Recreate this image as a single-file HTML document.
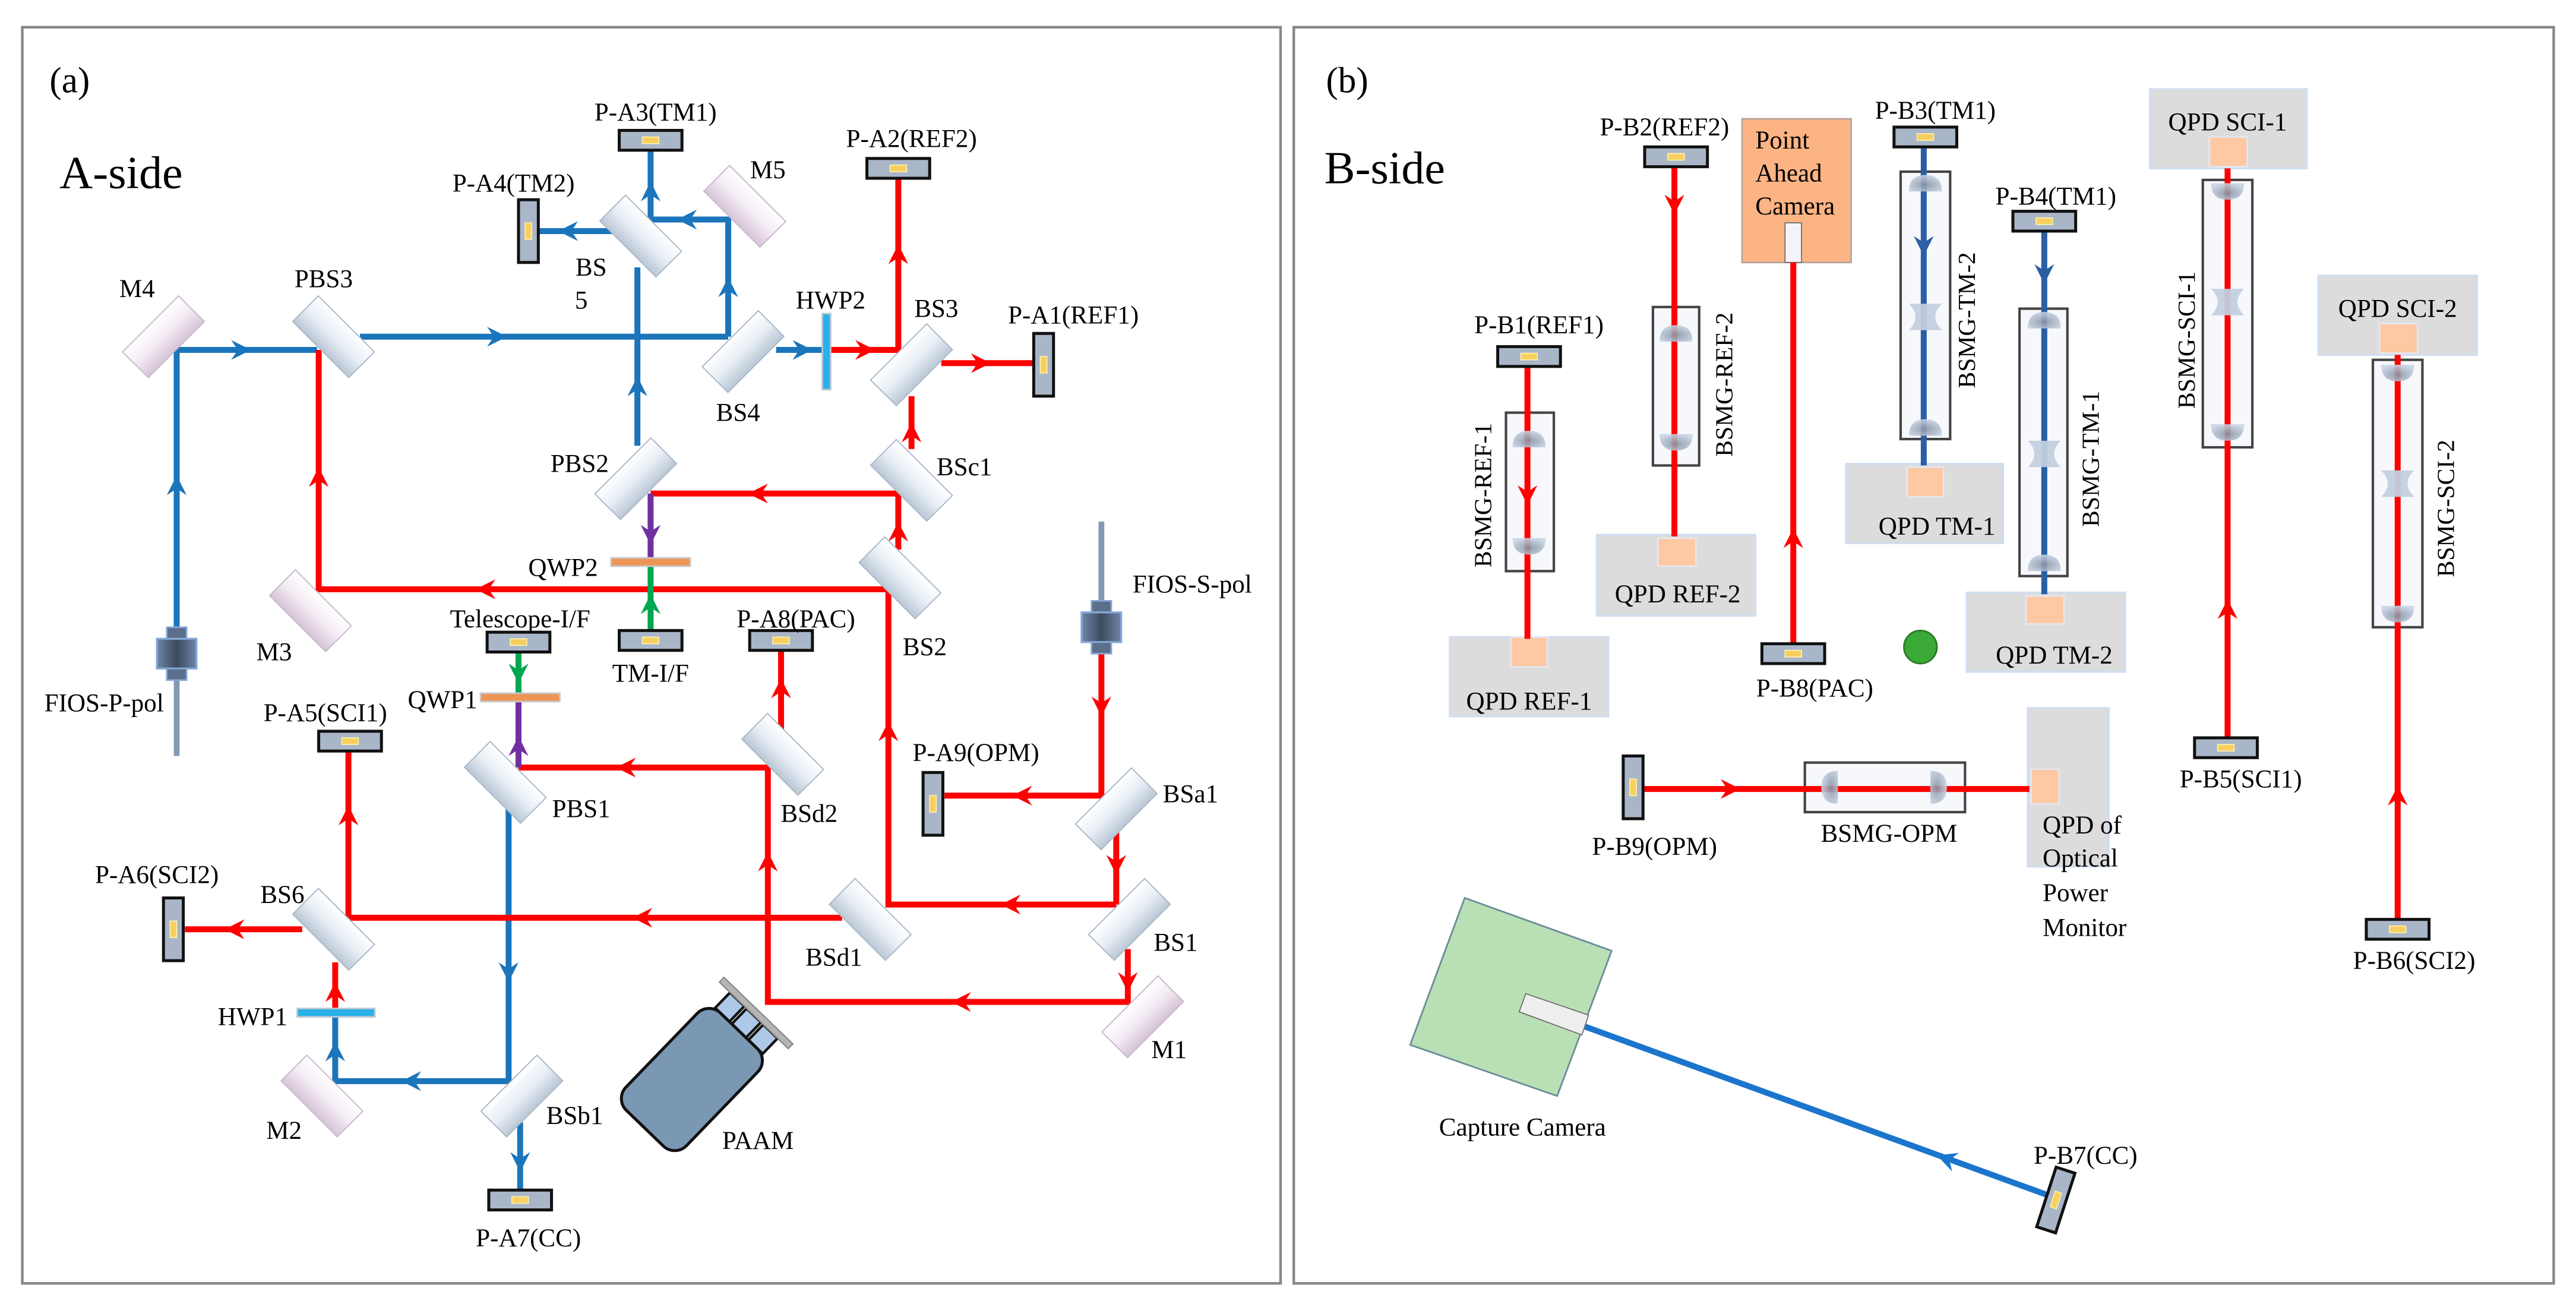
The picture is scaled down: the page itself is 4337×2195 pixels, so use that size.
<!DOCTYPE html>
<html><head><meta charset="utf-8"><style>html,body{margin:0;padding:0;background:#fff}svg{display:block}svg text{font-family:"Liberation Serif","Times New Roman","DejaVu Serif",serif;fill:#000}</style></head><body>
<svg xmlns="http://www.w3.org/2000/svg" width="4337" height="2195" viewBox="0 0 1560 790" preserveAspectRatio="none" font-family="Liberation Serif, Times New Roman, DejaVu Serif, serif">
<defs>
<linearGradient id="bsg" x1="0" y1="0" x2="0" y2="1"><stop offset="0" stop-color="#ffffff"/><stop offset="0.5" stop-color="#e8eef5"/><stop offset="1" stop-color="#b9c7d6"/></linearGradient>
<linearGradient id="mg" x1="0" y1="0" x2="0" y2="1"><stop offset="0" stop-color="#ffffff"/><stop offset="0.5" stop-color="#f3ebf3"/><stop offset="1" stop-color="#d6c3d8"/></linearGradient>
<radialGradient id="lg" cx="0.5" cy="0.6" r="0.6"><stop offset="0" stop-color="#8893a3"/><stop offset="1" stop-color="#c9d5e6"/></radialGradient>
<linearGradient id="fc" x1="0" y1="0" x2="1" y2="0"><stop offset="0" stop-color="#6f86a6"/><stop offset="0.5" stop-color="#3b4a60"/><stop offset="1" stop-color="#6f86a6"/></linearGradient>
<g id="bs"><rect x="-24" y="-11" width="48" height="22" fill="url(#bsg)" stroke="#aab8c8" stroke-width="0.7"/></g>
<g id="mi"><rect x="-24" y="-11" width="48" height="22" fill="url(#mg)" stroke="#c8b8cc" stroke-width="0.7"/></g>
<g id="det"><rect x="-19" y="-6" width="38" height="12" fill="#a9b6c8" stroke="#111" stroke-width="1.8"/><rect x="-5" y="-2" width="10" height="4" fill="#f7cf5e" stroke="#fff2b0" stroke-width="0.6"/></g>
<path id="ah" d="M0,0 L-12,-6 L-8,0 L-12,6 Z"/>
<g id="lu"><path d="M-10,5 Q-10,-5 0,-5 Q10,-5 10,5 Z" fill="url(#lg)" opacity="0.9"/></g>
<g id="ld"><path d="M-10,-5 Q-10,5 0,5 Q10,5 10,-5 Z" fill="url(#lg)" opacity="0.9"/></g>
<g id="lc"><path d="M-10,-8 L10,-8 Q2,0 10,8 L-10,8 Q-2,0 -10,-8 Z" fill="#c3cfdf" opacity="0.95"/></g>
<g id="fib"><rect x="-6" y="-16" width="12" height="7" fill="#5c6f8a" stroke="#86a8d8" stroke-width="1"/><rect x="-12" y="-9" width="24" height="18" fill="url(#fc)" stroke="#86a8d8" stroke-width="1.2"/><rect x="-6" y="9" width="12" height="7" fill="#5c6f8a" stroke="#86a8d8" stroke-width="1"/></g>
</defs>

<rect x="13.5" y="16.5" width="762" height="761" fill="none" stroke="#888" stroke-width="1.6"/>
<rect x="783.5" y="16.5" width="763" height="761" fill="none" stroke="#888" stroke-width="1.6"/>

<text x="30" y="56" font-size="22">(a)</text>
<text x="36" y="114" font-size="28">A-side</text>

<line x1="107" y1="370" x2="107" y2="458" stroke="#8499b3" stroke-width="3.5"/>
<line x1="667" y1="316" x2="667" y2="395" stroke="#8499b3" stroke-width="3.5"/>

<g fill="none" stroke-width="3.6" stroke-linejoin="miter">
<g stroke="#1b75bb">
<polyline points="107,380 107,212 192,212"/>
<line x1="218" y1="204" x2="441" y2="204"/>
<polyline points="441,204 441,133 394,133 394,90"/>
<line x1="386" y1="270" x2="386" y2="162"/>
<line x1="372" y1="140" x2="325" y2="140"/>
<line x1="470" y1="212" x2="499" y2="212"/>
<polyline points="308,490 308,655 203,655 203,615"/>
<line x1="315" y1="680" x2="315" y2="721"/>
</g>
<g stroke="#ff0000">
<polyline points="502,212 544,212 544,107"/>
<line x1="570" y1="220" x2="626" y2="220"/>
<line x1="552" y1="272" x2="552" y2="240"/>
<polyline points="544,333 544,299 394,299"/>
<polyline points="676,548 538,548 538,357 193,357 193,212"/>
<polyline points="314,465 465,465 465,607 683,607 683,575"/>
<polyline points="667,394 667,482 572,482"/>
<line x1="676" y1="500" x2="676" y2="548"/>
<line x1="473" y1="442" x2="473" y2="394"/>
<polyline points="510,556 211,556 211,455"/>
<line x1="183" y1="563" x2="112" y2="563"/>
<line x1="203" y1="611" x2="203" y2="583"/>
</g>
<g stroke="#7030a0"><line x1="394" y1="299" x2="394" y2="338"/><line x1="314" y1="465" x2="314" y2="424"/></g>
<g stroke="#00a651"><line x1="394" y1="382" x2="394" y2="342"/><line x1="314" y1="395" x2="314" y2="420"/></g>
</g>

<g fill="#1b75bb">
<use href="#ah" transform="translate(107,288) rotate(270)"/>
<use href="#ah" transform="translate(152,212) rotate(0)"/>
<use href="#ah" transform="translate(307,204) rotate(0)"/>
<use href="#ah" transform="translate(441,168) rotate(270)"/>
<use href="#ah" transform="translate(410,133) rotate(180)"/>
<use href="#ah" transform="translate(394,110) rotate(270)"/>
<use href="#ah" transform="translate(338,140) rotate(180)"/>
<use href="#ah" transform="translate(386,228) rotate(270)"/>
<use href="#ah" transform="translate(492,212) rotate(0)"/>
<use href="#ah" transform="translate(308,595) rotate(90)"/>
<use href="#ah" transform="translate(243,655) rotate(180)"/>
<use href="#ah" transform="translate(203,631) rotate(270)"/>
<use href="#ah" transform="translate(315,710) rotate(90)"/>
</g>
<g fill="#ff0000">
<use href="#ah" transform="translate(530,212) rotate(0)"/>
<use href="#ah" transform="translate(544,148) rotate(270)"/>
<use href="#ah" transform="translate(600,220) rotate(0)"/>
<use href="#ah" transform="translate(552,256) rotate(270)"/>
<use href="#ah" transform="translate(453,299) rotate(180)"/>
<use href="#ah" transform="translate(544,316) rotate(270)"/>
<use href="#ah" transform="translate(288,357) rotate(180)"/>
<use href="#ah" transform="translate(193,283) rotate(270)"/>
<use href="#ah" transform="translate(538,437) rotate(270)"/>
<use href="#ah" transform="translate(606,548) rotate(180)"/>
<use href="#ah" transform="translate(373,465) rotate(180)"/>
<use href="#ah" transform="translate(465,516) rotate(270)"/>
<use href="#ah" transform="translate(576,607) rotate(180)"/>
<use href="#ah" transform="translate(683,601) rotate(90)"/>
<use href="#ah" transform="translate(667,434) rotate(90)"/>
<use href="#ah" transform="translate(613,482) rotate(180)"/>
<use href="#ah" transform="translate(676,530) rotate(90)"/>
<use href="#ah" transform="translate(473,411) rotate(270)"/>
<use href="#ah" transform="translate(383,556) rotate(180)"/>
<use href="#ah" transform="translate(211,488) rotate(270)"/>
<use href="#ah" transform="translate(136,563) rotate(180)"/>
<use href="#ah" transform="translate(203,595) rotate(270)"/>
</g>
<g fill="#7030a0"><use href="#ah" transform="translate(394,330) rotate(90)"/><use href="#ah" transform="translate(314,446) rotate(270)"/></g>
<g fill="#00a651"><use href="#ah" transform="translate(394,360) rotate(270)"/><use href="#ah" transform="translate(314,414) rotate(90)"/></g>

<use href="#mi" transform="translate(99,204) rotate(-45)"/>
<use href="#bs" transform="translate(202,204) rotate(45)"/>
<use href="#bs" transform="translate(388,143) rotate(45)"/>
<use href="#mi" transform="translate(451,125) rotate(45)"/>
<use href="#bs" transform="translate(450,213) rotate(-45)"/>
<use href="#bs" transform="translate(552,221) rotate(-45)"/>
<use href="#bs" transform="translate(385,290) rotate(-45)"/>
<use href="#bs" transform="translate(552,291) rotate(45)"/>
<use href="#bs" transform="translate(545,350) rotate(45)"/>
<use href="#mi" transform="translate(188,370) rotate(45)"/>
<use href="#bs" transform="translate(306,474) rotate(45)"/>
<use href="#bs" transform="translate(474,457) rotate(45)"/>
<use href="#bs" transform="translate(676,490) rotate(-45)"/>
<use href="#bs" transform="translate(527,557) rotate(45)"/>
<use href="#bs" transform="translate(684,557) rotate(-45)"/>
<use href="#mi" transform="translate(692,616) rotate(-45)"/>
<use href="#bs" transform="translate(202,563) rotate(45)"/>
<use href="#mi" transform="translate(195,664) rotate(45)"/>
<use href="#bs" transform="translate(316,664) rotate(-45)"/>

<rect x="498" y="190" width="5" height="46" fill="#29b0e8" stroke="#b8c8d4" stroke-width="1"/>
<rect x="180" y="611" width="47" height="5" fill="#29b0e8" stroke="#b8c8d4" stroke-width="1"/>
<rect x="370" y="338" width="48" height="5" fill="#ee9455" stroke="#c8c8c8" stroke-width="1"/>
<rect x="291" y="420" width="48" height="5" fill="#ee9455" stroke="#c8c8c8" stroke-width="1"/>

<use href="#fib" transform="translate(107,396)"/>
<use href="#fib" transform="translate(667,380)"/>

<use href="#det" transform="translate(394,85)"/>
<use href="#det" transform="translate(544,102)"/>
<use href="#det" transform="translate(320,140) rotate(90)"/>
<use href="#det" transform="translate(632,221) rotate(90)"/>
<use href="#det" transform="translate(314,389)"/>
<use href="#det" transform="translate(394,388)"/>
<use href="#det" transform="translate(473,388)"/>
<use href="#det" transform="translate(565,487) rotate(90)"/>
<use href="#det" transform="translate(212,449)"/>
<use href="#det" transform="translate(105,563) rotate(90)"/>
<use href="#det" transform="translate(315,727)"/>

<g transform="translate(419,654) rotate(44)">
<rect x="-20" y="-54" width="12" height="13" fill="#aec8e8" stroke="#111" stroke-width="1.6"/>
<rect x="-6" y="-54" width="12" height="13" fill="#aec8e8" stroke="#111" stroke-width="1.6"/>
<rect x="8" y="-54" width="12" height="13" fill="#aec8e8" stroke="#111" stroke-width="1.6"/>
<rect x="-29" y="-58" width="58" height="4" fill="#b5b5b5" stroke="#888" stroke-width="0.8"/>
<rect x="-25.5" y="-41" width="51" height="82" rx="10" fill="#7a98b3" stroke="#111" stroke-width="1.8"/>
</g>

<g font-size="15.5" text-anchor="middle">
<text x="397" y="73">P-A3(TM1)</text>
<text x="552" y="89">P-A2(REF2)</text>
<text x="311" y="116">P-A4(TM2)</text>
<text x="650" y="196">P-A1(REF1)</text>
<text x="83" y="180">M4</text>
<text x="196" y="174">PBS3</text>
<text x="465" y="108">M5</text>
<text x="358" y="167">BS</text>
<text x="352" y="187">5</text>
<text x="503" y="187">HWP2</text>
<text x="567" y="192">BS3</text>
<text x="447" y="255">BS4</text>
<text x="351" y="286">PBS2</text>
<text x="584" y="288">BSc1</text>
<text x="341" y="349">QWP2</text>
<text x="166" y="400">M3</text>
<text x="560" y="397">BS2</text>
<text x="722" y="359">FIOS-S-pol</text>
<text x="63" y="431">FIOS-P-pol</text>
<text x="315" y="380">Telescope-I/F</text>
<text x="394" y="413">TM-I/F</text>
<text x="482" y="380">P-A8(PAC)</text>
<text x="591" y="461">P-A9(OPM)</text>
<text x="197" y="437">P-A5(SCI1)</text>
<text x="268" y="429">QWP1</text>
<text x="352" y="495">PBS1</text>
<text x="490" y="498">BSd2</text>
<text x="721" y="486">BSa1</text>
<text x="95" y="535">P-A6(SCI2)</text>
<text x="171" y="547">BS6</text>
<text x="712" y="576">BS1</text>
<text x="505" y="585">BSd1</text>
<text x="708" y="641">M1</text>
<text x="153" y="621">HWP1</text>
<text x="172" y="690">M2</text>
<text x="348" y="681">BSb1</text>
<text x="459" y="696">PAAM</text>
<text x="320" y="755">P-A7(CC)</text>
</g>

<text x="803" y="56" font-size="22">(b)</text>
<text x="802" y="111" font-size="28">B-side</text>

<g fill="#dcdcdc" stroke="#d0ddf0" stroke-width="1.2">
<rect x="878" y="386" width="96" height="48"/>
<rect x="967" y="324" width="96" height="49"/>
<rect x="1118" y="281" width="95" height="48"/>
<rect x="1191" y="359" width="96" height="48"/>
<rect x="1302" y="54" width="95" height="48"/>
<rect x="1404" y="167" width="96" height="48"/>
<rect x="1228" y="429" width="49" height="96"/>
</g>
<g fill="#fdc8a2" stroke="#e6e6f0" stroke-width="1">
<rect x="915" y="386" width="22" height="18"/>
<rect x="1004" y="326" width="23" height="17"/>
<rect x="1155" y="283" width="22" height="18"/>
<rect x="1227" y="361" width="23" height="17"/>
<rect x="1338" y="83" width="23" height="18"/>
<rect x="1441" y="196" width="23" height="18"/>
<rect x="1230" y="466" width="17" height="21"/>
</g>

<rect x="1055" y="72" width="66" height="87" fill="#fdb485" stroke="#b8a49a" stroke-width="1"/>
<rect x="1081" y="135" width="10" height="24" fill="#f4f4f8" stroke="#666" stroke-width="0.6"/>

<polygon points="887,544 976,576 943,664 854,633" fill="#b8e0b4" stroke="#6a8a9a" stroke-width="1"/>

<g fill="#f7f8fb" stroke="#444" stroke-width="1.5">
<rect x="912" y="250" width="29" height="96"/>
<rect x="1001" y="186" width="28" height="96"/>
<rect x="1151" y="104" width="30" height="162"/>
<rect x="1223" y="187" width="29" height="162"/>
<rect x="1334" y="109" width="30" height="162"/>
<rect x="1437" y="218" width="30" height="162"/>
<rect x="1093" y="462" width="97" height="30"/>
</g>

<g fill="none" stroke-width="3.6">
<g stroke="#ff0000">
<line x1="1014" y1="101" x2="1014" y2="325"/>
<line x1="1086" y1="159" x2="1086" y2="391"/>
<line x1="925" y1="222" x2="925" y2="387"/>
<line x1="1349" y1="102" x2="1349" y2="447"/>
<line x1="1452" y1="215" x2="1452" y2="557"/>
<line x1="994" y1="478" x2="1229" y2="478"/>
</g>
<g stroke="#2a5fa5">
<line x1="1165" y1="89" x2="1165" y2="282"/>
<line x1="1238" y1="140" x2="1238" y2="360"/>
</g>
<line x1="960" y1="622" x2="1240" y2="724" stroke="#1b75cc"/>
</g>
<g fill="#ff0000">
<use href="#ah" transform="translate(1014,130) rotate(90)"/>
<use href="#ah" transform="translate(1086,320) rotate(270)"/>
<use href="#ah" transform="translate(925,306) rotate(90)"/>
<use href="#ah" transform="translate(1349,363) rotate(270)"/>
<use href="#ah" transform="translate(1452,476) rotate(270)"/>
<use href="#ah" transform="translate(1054,478) rotate(0)"/>
</g>
<g fill="#2a5fa5">
<use href="#ah" transform="translate(1165,155) rotate(90)"/>
<use href="#ah" transform="translate(1238,172) rotate(90)"/>
</g>
<use href="#ah" fill="#1b75cc" transform="translate(1173,700) rotate(200)"/>

<use href="#lu" transform="translate(926,266)"/>
<use href="#ld" transform="translate(926,331)"/>
<use href="#lu" transform="translate(1015,202)"/>
<use href="#ld" transform="translate(1015,268)"/>
<use href="#lu" transform="translate(1166,111)"/>
<use href="#lc" transform="translate(1166,192)"/>
<use href="#lu" transform="translate(1166,259)"/>
<use href="#lu" transform="translate(1238,194)"/>
<use href="#lc" transform="translate(1238,275)"/>
<use href="#lu" transform="translate(1238,341)"/>
<use href="#ld" transform="translate(1349,116)"/>
<use href="#lc" transform="translate(1349,183)"/>
<use href="#ld" transform="translate(1349,262)"/>
<use href="#ld" transform="translate(1452,226)"/>
<use href="#lc" transform="translate(1452,293)"/>
<use href="#ld" transform="translate(1452,372)"/>
<use href="#lu" transform="translate(1108,477) rotate(-90)"/>
<use href="#lu" transform="translate(1174,477) rotate(90)"/>

<polygon points="924,602 962,615 958,627 920,613" fill="#eeeeee" stroke="#666" stroke-width="0.6"/>

<ellipse cx="1163" cy="392" rx="10" ry="10" fill="#3aa935" stroke="#2a7a25" stroke-width="1"/>

<use href="#det" transform="translate(1015,95)"/>
<use href="#det" transform="translate(1166,83)"/>
<use href="#det" transform="translate(1238,134)"/>
<use href="#det" transform="translate(926,216)"/>
<use href="#det" transform="translate(1086,396)"/>
<use href="#det" transform="translate(1348,453)"/>
<use href="#det" transform="translate(1452,563)"/>
<use href="#det" transform="translate(989,477) rotate(90)"/>
<use href="#det" transform="translate(1245,727) rotate(108)"/>

<g font-size="15.5" text-anchor="middle">
<text x="1008" y="82">P-B2(REF2)</text>
<text x="1172" y="72">P-B3(TM1)</text>
<text x="1245" y="124">P-B4(TM1)</text>
<text x="932" y="202">P-B1(REF1)</text>
<text x="1349" y="79">QPD SCI-1</text>
<text x="1452" y="192">QPD SCI-2</text>
<text x="1016" y="365">QPD REF-2</text>
<text x="1173" y="324">QPD TM-1</text>
<text x="1244" y="402">QPD TM-2</text>
<text x="926" y="430">QPD REF-1</text>
<text x="1099" y="422">P-B8(PAC)</text>
<text x="1357" y="477">P-B5(SCI1)</text>
<text x="1462" y="587">P-B6(SCI2)</text>
<text x="1002" y="518">P-B9(OPM)</text>
<text x="1144" y="510">BSMG-OPM</text>
<text x="922" y="688">Capture Camera</text>
<text x="1263" y="705">P-B7(CC)</text>
</g>
<g font-size="15.5">
<text x="1063" y="90">Point</text>
<text x="1063" y="110">Ahead</text>
<text x="1063" y="130">Camera</text>
<text x="1237" y="505">QPD of</text>
<text x="1237" y="525">Optical</text>
<text x="1237" y="546">Power</text>
<text x="1237" y="567">Monitor</text>
</g>
<g font-size="15" text-anchor="middle">
<text transform="translate(903,300) rotate(-90)">BSMG-REF-1</text>
<text transform="translate(1049,233) rotate(-90)">BSMG-REF-2</text>
<text transform="translate(1196,194) rotate(-90)">BSMG-TM-2</text>
<text transform="translate(1271,278) rotate(-90)">BSMG-TM-1</text>
<text transform="translate(1329,206) rotate(-90)">BSMG-SCI-1</text>
<text transform="translate(1486,308) rotate(-90)">BSMG-SCI-2</text>
</g>
</svg>
</body></html>
